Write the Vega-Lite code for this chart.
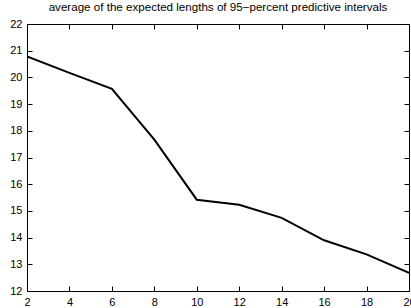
{
  "$schema": "https://vega.github.io/schema/vega-lite/v6.json",
  "width": 382,
  "height": 267,
  "autosize": {"type": "none"},
  "padding": {"left": 27, "top": 24, "right": 2, "bottom": 17},
  "background": "white",
  "title": {"text": "average of the expected lengths of 95−percent predictive intervals", "font": "Liberation Sans", "fontSize": 11.6, "fontWeight": "normal", "color": "black", "offset": 4, "anchor": "middle"},
  "config": {
    "view": {"stroke": null},
    "axis": {"grid": false, "domainColor": "black", "tickColor": "black", "labelColor": "black", "labelFont": "Liberation Sans", "labelFontSize": 11, "tickSize": -5, "domainWidth": 1, "tickWidth": 1, "title": null}
  },
  "data": {"values": [
    {"x": 2, "y": 20.79},
    {"x": 4, "y": 20.17},
    {"x": 6, "y": 19.57},
    {"x": 8, "y": 17.67},
    {"x": 10, "y": 15.42},
    {"x": 12, "y": 15.23},
    {"x": 14, "y": 14.74},
    {"x": 16, "y": 13.9},
    {"x": 18, "y": 13.37},
    {"x": 20, "y": 12.68}
  ]},
  "layer": [
    {
      "mark": {"type": "line", "color": "black", "strokeWidth": 2, "clip": true},
      "encoding": {
        "x": {"field": "x", "type": "quantitative", "scale": {"domain": [2, 20], "nice": false}, "axis": {"orient": "bottom", "values": [2,4,6,8,10,12,14,16,18,20], "labelPadding": 10, "labelFlush": false}},
        "y": {"field": "y", "type": "quantitative", "scale": {"domain": [12, 22], "nice": false, "zero": false}, "axis": {"orient": "left", "values": [12,13,14,15,16,17,18,19,20,21,22], "labelPadding": 10}}
      }
    },
    {
      "mark": {"type": "line", "opacity": 0},
      "encoding": {
        "x": {"field": "x", "type": "quantitative", "axis": {"orient": "top", "values": [2,4,6,8,10,12,14,16,18,20], "labels": false}},
        "y": {"field": "y", "type": "quantitative", "axis": {"orient": "right", "values": [12,13,14,15,16,17,18,19,20,21,22], "labels": false}}
      }
    }
  ],
  "resolve": {"axis": {"x": "independent", "y": "independent"}}
}
